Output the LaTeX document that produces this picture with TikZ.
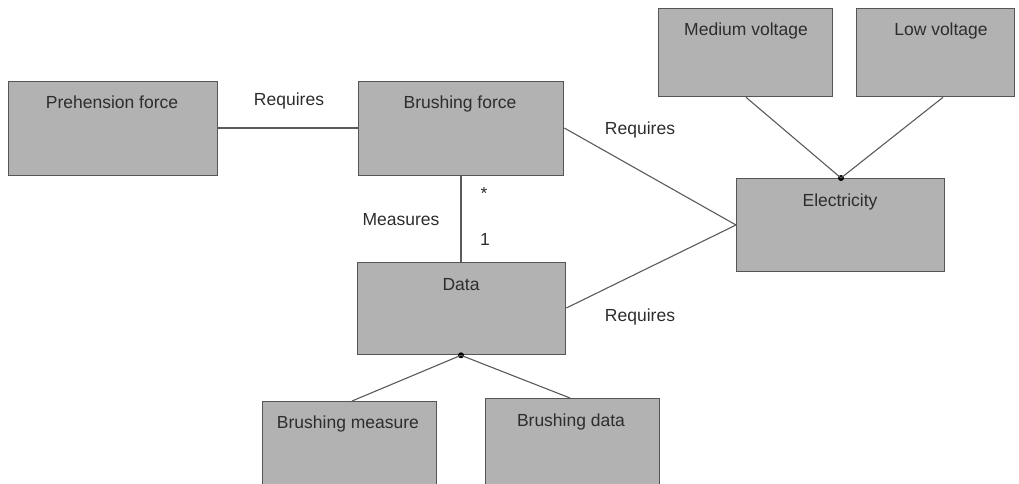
\documentclass[tikz,border=0pt]{standalone}
\usepackage{fontspec}
\setmainfont{Liberation Sans}
\definecolor{boxfill}{RGB}{178,178,178}
\definecolor{boxdraw}{RGB}{85,85,85}
\definecolor{linecol}{RGB}{90,90,90}
\definecolor{txt}{RGB}{45,45,45}
\begin{document}
\begin{tikzpicture}[x=1pt,y=-1pt,
  box/.style={draw=boxdraw,fill=boxfill,line width=1.3pt,inner sep=0pt,anchor=north west},
  ttl/.style={anchor=base,inner sep=0pt,font=\fontsize{17.5}{20}\selectfont,text=txt},
  lbl/.style={anchor=base,inner sep=0pt,font=\fontsize{17.5}{20}\selectfont,text=txt},
  conn/.style={draw=linecol,line width=1.1pt},
  dotc/.style={circle,fill=black,inner sep=0pt,minimum size=6pt}]
\useasboundingbox (0,0) rectangle (1019,484);
\clip (0,0) rectangle (1019,484);
% boxes
\node[box,minimum width=209pt,minimum height=94pt] (pf) at (8,81) {};
\node[box,minimum width=205pt,minimum height=94pt] (bf) at (358,81) {};
\node[box,minimum width=174pt,minimum height=88pt] (mv) at (658,8) {};
\node[box,minimum width=158pt,minimum height=88pt] (lv) at (856,8) {};
\node[box,minimum width=208pt,minimum height=93pt] (el) at (736,178) {};
\node[box,minimum width=208pt,minimum height=92pt] (da) at (357,262) {};
\node[box,minimum width=174pt,minimum height=100pt] (bm) at (262,401) {};
\node[box,minimum width=174pt,minimum height=100pt] (bd) at (485,398) {};
% titles
\node[ttl] (pft) at (112,109) {Prehension force};
\node[ttl] (bft) at (460,109) {Brushing force};
\node[ttl] (mvt) at (746,36) {Medium voltage};
\node[ttl] (lvt) at (941,36) {Low voltage};
\node[ttl] (elt) at (840,206) {Electricity};
\node[ttl] (dat) at (461,290) {Data};
\node[ttl] (bmt) at (348,428) {Brushing measure};
\node[ttl] (bdt) at (571,426) {Brushing data};
% junction dots
\node[dotc] (edot) at (el.north -| 841,0) {};
\node[dotc] (ddot) at (da.south -| 461,0) {};
% connectors
\draw[conn] (pf.east |- 0,128) -- (bf.west |- 0,128);
\draw[conn] (bf.south -| 461,0) -- (da.north -| 461,0);
\draw[conn] (bf.east |- 0,128) -- (el.west |- 0,225);
\draw[conn] (da.east |- 0,308) -- (el.west |- 0,225);
\draw[conn] (mv.south -| 746,0) -- (edot.center);
\draw[conn] (lv.south -| 943,0) -- (edot.center);
\draw[conn] (ddot.center) -- (bm.north -| 352,0);
\draw[conn] (ddot.center) -- (bd.north -| 570,0);
% labels
\node[lbl] (r1) at (289,106) {Requires};
\node[lbl] (r2) at (640,135) {Requires};
\node[lbl] (r3) at (640,321) {Requires};
\node[lbl] (ms) at (401,225) {Measures};
\node[lbl] (st) at (484,199) {*};
\node[lbl] (one) at (485,245) {1};
\end{tikzpicture}
\end{document}
